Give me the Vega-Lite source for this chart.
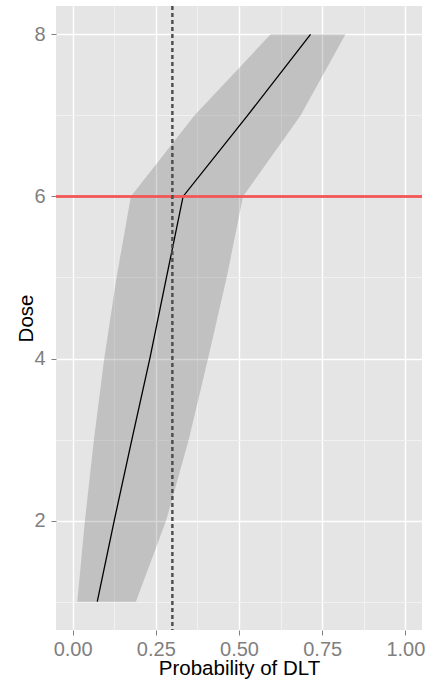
{
  "$schema": "https://vega.github.io/schema/vega-lite/v6.json",
  "width": 366,
  "height": 624,
  "autosize": {"type": "none"},
  "padding": {"left": 56, "top": 6, "right": 7, "bottom": 50},
  "background": "white",
  "config": {
    "view": {"fill": "#e5e5e5", "stroke": null},
    "font": "Liberation Sans",
    "axis": {
      "domain": false,
      "labelColor": "#7f7f7f",
      "labelFont": "Liberation Sans",
      "labelFontSize": 20,
      "titleFont": "Liberation Sans",
      "titleFontSize": 20.5,
      "titleFontWeight": "normal",
      "titleColor": "black",
      "tickColor": "#7f7f7f",
      "tickSize": 5,
      "tickWidth": 1,
      "gridColor": "white",
      "gridWidth": 1.4
    }
  },
  "data": {
    "values": [
      {"dose": 1, "lower": 0.014, "median": 0.074, "upper": 0.190},
      {"dose": 2, "lower": 0.037, "median": 0.125, "upper": 0.281},
      {"dose": 3, "lower": 0.064, "median": 0.178, "upper": 0.349},
      {"dose": 4, "lower": 0.095, "median": 0.232, "upper": 0.407},
      {"dose": 5, "lower": 0.132, "median": 0.282, "upper": 0.463},
      {"dose": 6, "lower": 0.175, "median": 0.332, "upper": 0.512},
      {"dose": 7, "lower": 0.366, "median": 0.526, "upper": 0.685},
      {"dose": 8, "lower": 0.595, "median": 0.715, "upper": 0.820}
    ]
  },
  "resolve": {"axis": {"x": "independent", "y": "independent"}},
  "layer": [
    {
      "mark": {"type": "area", "orient": "horizontal", "color": "#333333", "opacity": 0.2},
      "encoding": {
        "y": {"field": "dose", "type": "quantitative",
              "scale": {"domain": [0.65, 8.35], "nice": false, "zero": false},
              "axis": {"orient": "right", "values": [1, 3, 5, 7], "labels": false, "ticks": false, "title": null, "grid": true, "gridColor": "#f2f2f2", "gridWidth": 0.9}},
        "x": {"field": "lower", "type": "quantitative",
              "scale": {"domain": [-0.05, 1.05], "nice": false, "zero": false},
              "axis": {"orient": "top", "values": [0.125, 0.375, 0.625, 0.875], "labels": false, "ticks": false, "title": null, "grid": true, "gridColor": "#f2f2f2", "gridWidth": 0.9}},
        "x2": {"field": "upper"}
      }
    },
    {
      "mark": {"type": "line", "color": "black", "strokeWidth": 1.3},
      "encoding": {
        "y": {"field": "dose", "type": "quantitative",
              "axis": {"orient": "left", "values": [2, 4, 6, 8], "title": "Dose", "grid": true, "labelPadding": 6, "titleBaseline": "alphabetic", "titleX": -24, "titleY": 312}},
        "x": {"field": "median", "type": "quantitative",
              "axis": {"orient": "bottom", "values": [0, 0.25, 0.5, 0.75, 1], "format": ".2f", "title": "Probability of DLT", "grid": true, "labelBaseline": "alphabetic", "labelPadding": 20, "titleBaseline": "alphabetic", "titleX": 183, "titleY": 44.5}},
        "order": {"field": "dose"}
      }
    },
    {
      "mark": {"type": "rule", "color": "#f25757", "strokeWidth": 1.5},
      "encoding": {"y": {"datum": 6, "type": "quantitative", "axis": null}}
    },
    {
      "mark": {"type": "rule", "color": "#4d4d4d", "strokeWidth": 1.3, "strokeDash": [4, 3]},
      "encoding": {"x": {"datum": 0.3, "type": "quantitative", "axis": null}}
    }
  ]
}
